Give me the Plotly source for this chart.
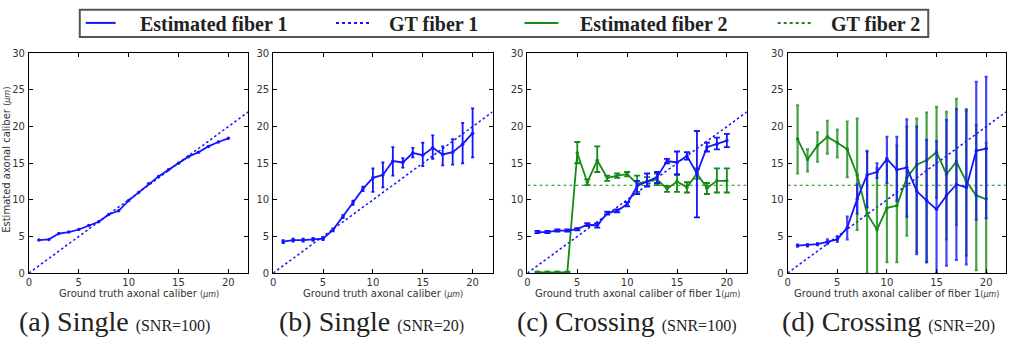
import plotly.graph_objects as go

W, H = 1015, 341

# ---------------- data ----------------
caliber = [1, 2, 3, 4, 5, 6, 7, 8, 9, 10, 11, 12, 13, 14, 15, 16, 17, 18, 19, 20]
gt_x = [0, 22]
gt1_y = [0, 22]
gt2_y = [12, 12]

# (a) Single SNR=100
a_est1 = [4.5, 4.6, 5.4, 5.6, 5.95, 6.5, 7.0, 8.0, 8.5, 9.9, 11.0, 12.2, 13.2, 14.1, 15.0, 15.9, 16.5, 17.3, 17.9, 18.4]

# (b) Single SNR=20
b_est1 = [4.3, 4.5, 4.5, 4.6, 4.7, 5.9, 7.7, 9.6, 11.5, 13.0, 13.4, 15.3, 15.1, 16.4, 16.1, 17.1, 16.2, 16.5, 17.6, 19.1]
b_hi = [4.5, 4.7, 4.7, 4.8, 4.9, 6.1, 7.9, 9.9, 11.8, 14.3, 15.1, 17.2, 15.7, 17.1, 17.8, 18.8, 17.3, 18.3, 20.5, 22.5]
b_lo = [4.1, 4.3, 4.3, 4.4, 4.5, 5.7, 7.5, 9.3, 11.2, 11.1, 11.7, 13.3, 14.4, 15.8, 14.6, 15.6, 14.7, 14.8, 15.0, 15.8]

# (c) Crossing SNR=100
c_est1 = [5.6, 5.6, 5.8, 5.8, 6.0, 6.6, 6.5, 8.2, 8.5, 9.4, 11.9, 12.5, 13.1, 15.3, 15.1, 16.0, 13.6, 17.2, 17.6, 18.1]
c_hi1 = [5.75, 5.75, 5.95, 5.95, 6.15, 6.8, 6.8, 8.4, 8.7, 9.7, 12.6, 13.6, 13.8, 15.6, 16.6, 16.5, 19.4, 17.8, 18.5, 19.0]
c_lo1 = [5.45, 5.45, 5.65, 5.65, 5.85, 6.4, 6.2, 8.0, 8.3, 9.1, 10.8, 11.8, 12.3, 15.0, 13.4, 15.5, 7.6, 16.6, 16.9, 17.2]
c_est2 = [0.1, 0.1, 0.1, 0.1, 16.4, 12.4, 15.4, 13.0, 13.3, 13.5, 12.2, 12.5, 12.8, 11.5, 12.5, 11.7, 13.6, 11.6, 12.6, 12.6]
c_hi2 = [0.2, 0.2, 0.2, 0.2, 17.9, 12.8, 17.3, 13.3, 13.6, 13.8, 13.3, 13.1, 13.6, 11.9, 13.5, 12.4, 14.3, 12.3, 14.3, 14.3]
c_lo2 = [0.0, 0.0, 0.0, 0.0, 15.0, 12.0, 13.8, 12.6, 13.0, 13.2, 11.1, 11.9, 12.0, 11.1, 11.1, 11.0, 12.9, 10.8, 11.0, 11.0]

# (d) Crossing SNR=20
d_est1 = [3.75, 3.8, 3.95, 4.25, 4.6, 6.2, 10.1, 13.4, 13.8, 15.6, 14.1, 14.4, 11.2, 9.9, 8.7, 10.6, 12.1, 11.7, 16.7, 17.0]
d_hi1 = [3.9, 3.95, 4.1, 4.6, 5.0, 7.7, 12.1, 16.6, 15.0, 18.6, 18.6, 21.0, 20.0, 18.2, 18.0, 20.9, 22.4, 22.2, 26.1, 26.8]
d_lo1 = [3.6, 3.65, 3.8, 3.95, 4.25, 4.6, 8.1, 9.0, 13.0, 12.3, 9.9, 7.7, 2.6, 1.5, 0.0, 1.0, 1.8, 1.2, 7.3, 7.5]
d_est2 = [18.3, 15.5, 17.4, 18.6, 17.8, 16.9, 13.4, 8.1, 5.9, 8.9, 9.2, 13.0, 14.8, 15.4, 16.5, 13.5, 15.2, 12.5, 10.6, 10.1]
d_hi2 = [22.9, 16.9, 19.2, 20.8, 19.6, 20.7, 21.1, 16.7, 14.3, 15.2, 17.4, 20.0, 21.1, 21.9, 22.7, 22.0, 23.8, 22.4, 20.2, 17.8]
d_lo2 = [13.6, 13.9, 15.2, 16.3, 15.8, 13.1, 5.9, 0.0, 0.0, 1.5, 1.5, 5.1, 2.9, 1.5, 10.3, 4.6, 6.6, 2.4, 0.4, 0.0]

x_ticks = [0, 5, 10, 15, 20]
y_ticks = [0, 5, 10, 15, 20, 25, 30]

legend_labels = ["Estimated fiber 1", "GT fiber 1", "Estimated fiber 2", "GT fiber 2"]
captions = [("(a) Single", "(SNR=100)"), ("(b) Single", "(SNR=20)"),
            ("(c) Crossing", "(SNR=100)"), ("(d) Crossing", "(SNR=20)")]
x_titles = ["Ground truth axonal caliber", "Ground truth axonal caliber",
            "Ground truth axonal caliber of fiber 1", "Ground truth axonal caliber of fiber 1"]
y_title = "Estimated axonal caliber"

# ---------------- style ----------------
BLUE = "#1414ff"
GREEN = "#158a15"
BLUE_BAR = "rgba(20,20,255,0.8)"
GREEN_BAR = "rgba(21,138,21,0.8)"

panel_px = [(26, 246), (271, 491), (526, 746), (787, 1006)]
top_px, bot_px = 50, 277


def px(x):
    return x / W


def py(y):
    return 1 - y / H


fig = go.Figure()


def add_gt(i, with_fiber2):
    xa = "x" if i == 0 else f"x{i+1}"
    ya = "y" if i == 0 else f"y{i+1}"
    fig.add_trace(go.Scatter(x=gt_x, y=gt1_y, mode="lines", xaxis=xa, yaxis=ya,
                             line=dict(color=BLUE, width=1.5, dash="2.5px,2.5px"), showlegend=False,
                             hoverinfo="skip"))
    if with_fiber2:
        fig.add_trace(go.Scatter(x=gt_x, y=gt2_y, mode="lines", xaxis=xa, yaxis=ya,
                                 line=dict(color=GREEN, width=1.1, dash="3px,3px"), showlegend=False,
                                 hoverinfo="skip"))


def add_est(i, y, hi, lo, color, barcolor, capw, thick):
    xa = "x" if i == 0 else f"x{i+1}"
    ya = "y" if i == 0 else f"y{i+1}"
    err = None
    if hi is not None:
        err = dict(type="data", symmetric=False,
                   array=[h - v for h, v in zip(hi, y)],
                   arrayminus=[v - l for v, l in zip(y, lo)],
                   color=barcolor, thickness=thick, width=capw)
    fig.add_trace(go.Scatter(x=caliber, y=y, mode="lines+markers", xaxis=xa, yaxis=ya,
                             line=dict(color=color, width=1.8),
                             marker=dict(color=color, size=3.5),
                             error_y=err, showlegend=False))


add_gt(0, False)
add_est(0, a_est1, None, None, BLUE, BLUE_BAR, 0, 0)

add_gt(1, False)
add_est(1, b_est1, b_hi, b_lo, BLUE, BLUE, 1.5, 1.8)

add_gt(2, True)
add_est(2, c_est2, c_hi2, c_lo2, GREEN, GREEN, 3, 1.8)
add_est(2, c_est1, c_hi1, c_lo1, BLUE, BLUE, 3, 1.8)

add_gt(3, True)
add_est(3, d_est2, d_hi2, d_lo2, GREEN, GREEN_BAR, 1.5, 2.2)
add_est(3, d_est1, d_hi1, d_lo1, BLUE, BLUE_BAR, 1.5, 2.2)

tickfont = dict(family="DejaVu Sans", size=10, color="#333333")
layout = dict(width=W, height=H, margin=dict(l=0, r=0, t=0, b=0),
              paper_bgcolor="white", plot_bgcolor="white", showlegend=False)

for i, (x0, x1) in enumerate(panel_px):
    sfx = "" if i == 0 else str(i + 1)
    layout["xaxis" + sfx] = dict(domain=[px(x0), px(x1)], range=[0, 22], tickvals=x_ticks,
                                 anchor="y" + sfx, showgrid=False, zeroline=False,
                                 showline=True, linecolor="black", linewidth=1, mirror="allticks",
                                 ticks="inside", ticklen=4, tickcolor="black", tickwidth=1,
                                 tickfont=tickfont, ticklabelstandoff=0)
    layout["yaxis" + sfx] = dict(domain=[py(bot_px), py(top_px)], range=[0, 30], tickvals=y_ticks,
                                 anchor="x" + sfx, showgrid=False, zeroline=False,
                                 showline=True, linecolor="black", linewidth=1, mirror="allticks",
                                 ticks="inside", ticklen=4, tickcolor="black", tickwidth=1,
                                 tickfont=tickfont, ticklabelstandoff=1)

fig.update_layout(**layout)

annotations = []
shapes = []

# x-axis titles
for i, (x0, x1) in enumerate(panel_px):
    sep = " " if i < 2 else ""
    annotations.append(dict(
        x=px((x0 + x1) / 2), y=py(298), xref="paper", yref="paper",
        xanchor="center", yanchor="middle", showarrow=False,
        text=x_titles[i] + sep + "<span style='font-size:8px'>(<i>μm</i>)</span>",
        font=dict(family="DejaVu Sans", size=10, color="#333333")))

# y-axis title (panel a), clipped at left edge
annotations.append(dict(
    x=px(4), y=py(160), xref="paper", yref="paper", xanchor="center", yanchor="middle",
    showarrow=False, textangle=-90,
    text=y_title + " <span style='font-size:8px'>(<i>μm</i>)</span>",
    font=dict(family="DejaVu Sans", size=10, color="#333333")))

# captions
cap_centers = [112, 370, 625, 888]
for (main, snr), cx in zip(captions, cap_centers):
    annotations.append(dict(
        x=px(cx), y=py(327), xref="paper", yref="paper", xanchor="center", yanchor="middle",
        showarrow=False,
        text=main + " <span style='font-size:16px'>" + snr + "</span>",
        font=dict(family="Liberation Serif", size=28, color="#222222")))

# legend box
shapes.append(dict(type="rect", xref="paper", yref="paper",
                   x0=px(77), x1=px(928), y0=py(33), y1=py(5),
                   line=dict(color="#555555", width=2), fillcolor="white"))
legend_samples = [(83, 113, BLUE, "solid"), (334, 369, BLUE, "3px,3px"),
                  (523, 557, GREEN, "solid"), (777, 812, GREEN, "3px,3px")]
legend_text_x = [135, 385, 577, 828]
for (sx0, sx1, col, dash), tx, lab in zip(legend_samples, legend_text_x, legend_labels):
    shapes.append(dict(type="line", xref="paper", yref="paper",
                       x0=px(sx0), x1=px(sx1), y0=py(18.5), y1=py(18.5),
                       line=dict(color=col, width=2, dash=dash)))
    annotations.append(dict(
        x=px(tx), y=py(19.5), xref="paper", yref="paper", xanchor="left", yanchor="middle",
        showarrow=False, text="<b>" + lab + "</b>",
        font=dict(family="Liberation Serif", size=20, color="#222222")))

fig.update_layout(annotations=annotations, shapes=shapes)
fig.write_html("out.html")
